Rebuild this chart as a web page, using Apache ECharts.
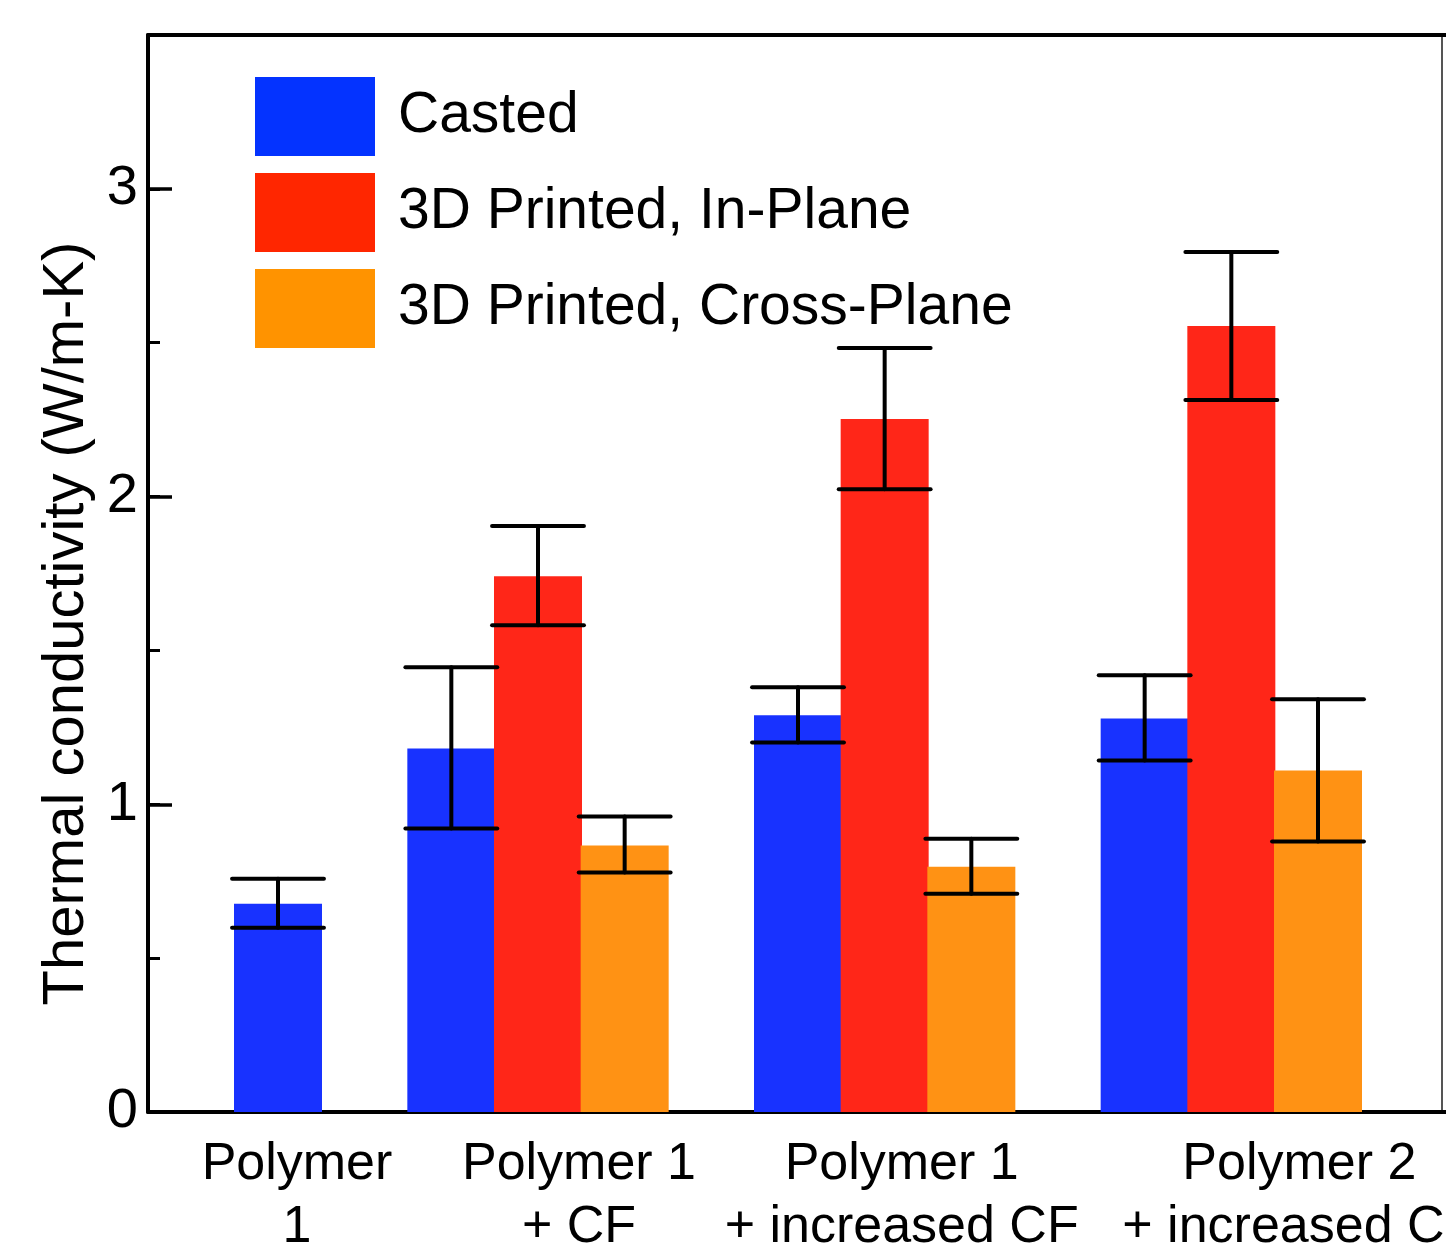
<!DOCTYPE html>
<html><head><meta charset="utf-8">
<script src="https://cdn.jsdelivr.net/npm/echarts@6/dist/echarts.min.js"></script>
<style>html,body{margin:0;padding:0;background:#fff}#chart{width:1446px;height:1252px}</style>
</head><body><div id="chart"></div>
<script>
// ---- data ----
const categories = ['Polymer\n1', 'Polymer 1\n+ CF', 'Polymer 1\n+ increased CF', 'Polymer 2\n+ increased CF'];
const seriesNames = ['Casted', '3D Printed, In-Plane', '3D Printed, Cross-Plane'];
const casted        = [0.677, 1.181, 1.289, 1.279];
const castedLow     = [0.599, 0.921, 1.201, 1.142];
const castedHigh    = [0.758, 1.445, 1.380, 1.419];
const inPlane       = [null, 1.741, 2.252, 2.554];
const inPlaneLow    = [null, 1.582, 2.024, 2.314];
const inPlaneHigh   = [null, 1.904, 2.483, 2.795];
const crossPlane    = [null, 0.866, 0.797, 1.110];
const crossPlaneLow = [null, 0.778, 0.709, 0.879];
const crossPlaneHigh= [null, 0.960, 0.888, 1.341];
const yTickLabels = ['0', '1', '2', '3'];

// ---- layout: one category slot per bar ----
const FONT = "'Liberation Sans', Arial, sans-serif";
const colors = ['#1832FF', '#FF2618', '#FF9214'];
const legendColors = ['#0433FF', '#FF2600', '#FF9300'];
const NSLOT = 15;
const groupCenter = categories.map((c, i) => i === 0 ? 1 : 4 * i);
const values = [casted, inPlane, crossPlane];
const lows = [castedLow, inPlaneLow, crossPlaneLow];
const highs = [castedHigh, inPlaneHigh, crossPlaneHigh];

function slotOf(g, s) {
  const present = values.filter(v => v[g] != null).length;
  return present === 1 ? groupCenter[g] : groupCenter[g] + (s - 1);
}

const slotLabels = new Array(NSLOT).fill('');
const slotGroup = new Array(NSLOT).fill(-1);
categories.forEach((c, g) => { slotLabels[groupCenter[g]] = c; slotGroup[groupCenter[g]] = g; });

const barSeries = values.map((arr, s) => {
  const data = new Array(NSLOT).fill('-');
  arr.forEach((v, g) => { if (v != null) data[slotOf(g, s)] = v; });
  return {
    name: seriesNames[s], type: 'bar', stack: 'all', data: data,
    barWidth: 88, itemStyle: { color: colors[s] }, xAxisIndex: 0, yAxisIndex: 0
  };
});

const errData = [];
values.forEach((arr, s) => arr.forEach((v, g) => {
  if (v != null) errData.push([slotOf(g, s), lows[s][g], highs[s][g]]);
}));

const errSeries = {
  name: 'error', type: 'custom', xAxisIndex: 0, yAxisIndex: 0, z: 5,
  encode: { x: 0, y: [1, 2] },
  data: errData,
  renderItem: function (params, api) {
    const x = api.value(0);
    const pHi = api.coord([x, api.value(2)]);
    const pLo = api.coord([x, api.value(1)]);
    const half = api.size([1, 0])[0] * 0.53;
    const st = { stroke: '#000', lineWidth: 4, lineCap: 'round' };
    return { type: 'group', children: [
      { type: 'line', shape: { x1: pHi[0], y1: pHi[1], x2: pLo[0], y2: pLo[1] }, style: st },
      { type: 'line', shape: { x1: pHi[0] - half, y1: pHi[1], x2: pHi[0] + half, y2: pHi[1] }, style: st },
      { type: 'line', shape: { x1: pLo[0] - half, y1: pLo[1], x2: pLo[0] + half, y2: pLo[1] }, style: st }
    ]};
  }
};

const labelShift = [38, 82, 34, 136];
const labelTop = [0, 0, 12, 0];
const rich = {};
labelShift.forEach((p, g) => {
  rich['g' + g] = { fontSize: 52, lineHeight: 63, color: '#000', fontFamily: FONT, padding: [0, 0, 0, p] };
});

const chart = echarts.init(document.getElementById('chart'), null, { renderer: 'canvas' });
chart.setOption({
  animation: false,
  backgroundColor: '#fff',
  textStyle: { fontFamily: FONT },
  grid: { left: 148, right: -2, top: 35, bottom: 140, containLabel: false, outerBoundsMode: 'none' },
  legend: {
    orient: 'vertical', left: 250, top: 72, itemWidth: 120, itemHeight: 79, itemGap: 17,
    icon: 'rect', selectedMode: false,
    textStyle: { fontSize: 57, color: '#000', fontFamily: FONT, padding: [0, 0, 0, 18] },
    data: seriesNames.map((n, i) => ({ name: n, itemStyle: { color: legendColors[i] } }))
  },
  xAxis: [
    { type: 'category', data: slotLabels, position: 'bottom', boundaryGap: true,
      axisLine: { show: true, onZero: false, lineStyle: { color: '#000', width: 4 } },
      axisTick: { show: false }, splitLine: { show: false },
      axisLabel: { interval: 0, margin: 21, hideOverlap: false,
        formatter: function (val, idx) {
          const g = slotGroup[idx];
          if (g < 0) return '';
          return val.split('\n').map(l => '{g' + g + '|' + l + '}').join('\n');
        }, rich: rich } },
    { type: 'category', data: slotLabels, position: 'top', boundaryGap: true,
      axisLine: { show: true, onZero: false, lineStyle: { color: '#000', width: 4 } },
      axisTick: { show: false }, axisLabel: { show: false }, splitLine: { show: false } }
  ],
  yAxis: [
    { type: 'value', min: 0, max: 3.5, interval: 0.5, position: 'left',
      axisLine: { show: true, onZero: false, lineStyle: { color: '#000', width: 4 } },
      axisTick: { show: true, inside: true, length: 12, lineStyle: { color: '#000', width: 3 } },
      axisLabel: { show: false }, splitLine: { show: false } },
    { type: 'value', min: 0, max: 3.5, interval: 1, position: 'left', offset: 0,
      axisLine: { show: false },
      axisTick: { show: true, inside: true, length: 24, lineStyle: { color: '#000', width: 3.5 } },
      axisLabel: { show: true, margin: 10, fontSize: 56, color: '#000', fontFamily: FONT,
        showMaxLabel: false,
        formatter: function (v) { const i = Math.round(v); return Math.abs(v - i) < 1e-9 && i < yTickLabels.length ? yTickLabels[i] : ''; } },
      splitLine: { show: false },
      name: 'Thermal conductivity (W/m-K)', nameLocation: 'middle', nameGap: 52,
      nameTextStyle: { fontSize: 58, color: '#000', fontFamily: FONT, padding: [0, 100, 0, 0] } },
    { type: 'value', min: 0, max: 3.5, position: 'right', offset: -6,
      axisLine: { show: true, onZero: false, lineStyle: { color: '#555', width: 2 } },
      axisTick: { show: false }, axisLabel: { show: false }, splitLine: { show: false } }
  ],
  series: barSeries.concat([errSeries])
});
</script></body></html>
